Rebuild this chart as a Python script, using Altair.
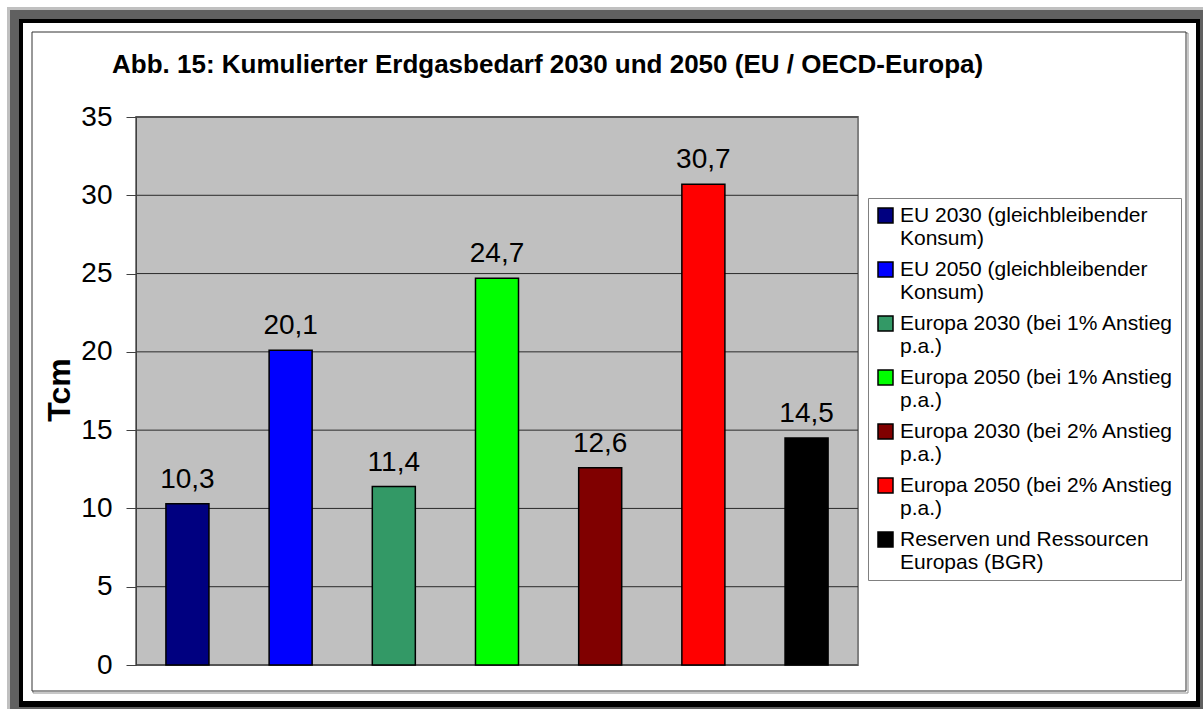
import altair as alt
import pandas as pd

# ---- data ----
categories = [
    "EU 2030 (gleichbleibender\nKonsum)",
    "EU 2050 (gleichbleibender\nKonsum)",
    "Europa 2030 (bei 1% Anstieg\np.a.)",
    "Europa 2050 (bei 1% Anstieg\np.a.)",
    "Europa 2030 (bei 2% Anstieg\np.a.)",
    "Europa 2050 (bei 2% Anstieg\np.a.)",
    "Reserven und Ressourcen\nEuropas (BGR)",
]
values = [10.3, 20.1, 11.4, 24.7, 12.6, 30.7, 14.5]
colors = ["#000080", "#0000FF", "#339966", "#00FF00", "#800000", "#FF0000", "#000000"]
y_ticks = [0, 5, 10, 15, 20, 25, 30, 35]
title_text = "Abb. 15: Kumulierter Erdgasbedarf 2030 und 2050 (EU / OECD-Europa)"
y_title = "Tcm"

FONT = "Liberation Sans"
W, H = 722, 548
PAD_L, PAD_T, PAD_R, PAD_B = 136, 117, 345, 44

df = pd.DataFrame({"category": categories, "value": values})
ticks_df = pd.DataFrame({"tick": y_ticks})
one = pd.DataFrame({"a": [0]})

yscale = alt.Scale(domain=[0, 35], nice=False)
yaxis = alt.Axis(values=y_ticks, grid=False, title=None, tickSize=10,
                 tickColor="#404040", domainColor="#404040", domainWidth=1,
                 labelFont=FONT, labelFontSize=28, labelColor="#000000",
                 labelPadding=14, zindex=1)


def frame_rect(x, x2, y, y2, **kw):
    return alt.Chart(one).mark_rect(**kw).encode(
        x=alt.value(x - PAD_L), x2=alt.value(x2 - PAD_L),
        y=alt.value(y - PAD_T), y2=alt.value(y2 - PAD_T))


frame = [
    frame_rect(7, 1203, 7, 709, fill="#C0C0C0"),
    frame_rect(10, 1203, 10, 709, fill="#606060"),
    frame_rect(19, 1200, 19, 707, fill="#000000"),
    frame_rect(23, 1196, 23, 701, fill="#FFFFFF"),
    frame_rect(33, 1188, 33, 693, fill="#FFFFFF", stroke="#909090", strokeWidth=1),
    frame_rect(32, 1186, 32, 691, fill="#FFFFFF", stroke="#333333", strokeWidth=1),
]

plot_bg = alt.Chart(one).mark_rect(fill="#C0C0C0", stroke="#808080", strokeWidth=2).encode(
    x=alt.value(0), x2=alt.value(W), y=alt.value(0), y2=alt.value(H))

grid = alt.Chart(ticks_df).mark_rule(color="#2a2a2a", strokeWidth=1).encode(
    y=alt.Y("tick:Q", scale=yscale, axis=yaxis))

bars = alt.Chart(df).mark_bar(stroke="#000000", strokeWidth=1.5).encode(
    x=alt.X("category:N", sort=categories, axis=None,
            scale=alt.Scale(paddingInner=0.583, paddingOuter=0.29)),
    y=alt.Y("value:Q", scale=yscale, axis=yaxis),
    color=alt.Color("category:N", sort=categories,
                    scale=alt.Scale(domain=categories, range=colors),
                    legend=alt.Legend(
                        title=None, orient="none", legendX=732, legendY=81,
                        labelExpr="split(datum.label, '\\n')",
                        labelFont=FONT, labelFontSize=21,
                        labelColor="#000000", labelLimit=500, labelOffset=4,
                        symbolType="square", symbolSize=225,
                        symbolStrokeColor="#000000", symbolStrokeWidth=1.5,
                        symbolOpacity=1, fillColor="#FFFFFF",
                        strokeColor="#808080", padding=7, rowPadding=9,
                        zindex=1)),
)

labels = alt.Chart(df).mark_text(
    font=FONT, fontSize=28, color="#000000", baseline="alphabetic", dy=-16
).encode(
    x=alt.X("category:N", sort=categories, axis=None),
    y=alt.Y("value:Q", scale=yscale, axis=yaxis),
    text=alt.Text("lbl:N"),
).transform_calculate(lbl="replace(format(datum.value, '.1f'), '.', ',')")

title = alt.Chart(one).mark_text(
    text=title_text, font=FONT, fontSize=26, fontWeight="bold", color="#000000",
    align="left", baseline="alphabetic"
).encode(x=alt.value(112 - PAD_L), y=alt.value(73 - PAD_T))

ytitle = alt.Chart(one).mark_text(
    text=y_title, font=FONT, fontSize=32, fontWeight="bold", color="#000000",
    align="center", baseline="alphabetic", angle=270
).encode(x=alt.value(70 - PAD_L), y=alt.value(390 - PAD_T))

chart = alt.layer(*frame, plot_bg, grid, bars, labels, title, ytitle).properties(
    width=W, height=H,
    autosize=alt.AutoSizeParams(type="none"),
    padding={"left": PAD_L, "top": PAD_T, "right": PAD_R, "bottom": PAD_B},
    background="#FFFFFF",
).configure_view(stroke=None)

chart.save("out.html", embed_options={"renderer": "svg", "actions": False})
